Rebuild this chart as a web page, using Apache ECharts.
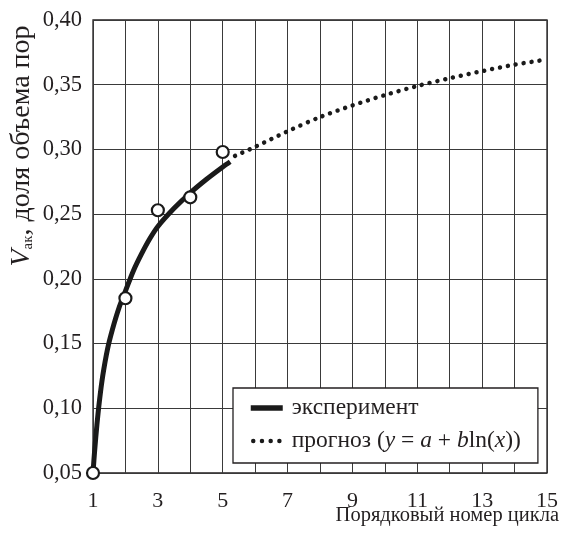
<!DOCTYPE html>
<html><head><meta charset="utf-8">
<script src="https://cdn.jsdelivr.net/npm/echarts@6/dist/echarts.min.js"></script>
<style>html,body{margin:0;padding:0;background:#fff}#c{width:561px;height:540px}</style>
</head><body><div id="c"></div>
<script>
// ---- data ----
const expX = [1, 2, 3, 4, 5];
const expY = [0.05, 0.185, 0.253, 0.263, 0.298];
const fitX = [1, 1.05, 1.12, 1.2, 1.3, 1.45, 1.6, 1.8, 2, 2.25, 2.5, 2.75, 3, 3.5, 4, 4.5, 5, 5.23];
const fitY = [0.05, 0.067, 0.087, 0.106, 0.125, 0.146, 0.161, 0.1775, 0.1905, 0.2065, 0.2195, 0.231, 0.2405, 0.2545, 0.2665, 0.277, 0.2865, 0.2905];
const fcX = [5.38, 6, 7, 8, 9, 10, 11, 12, 13, 14, 15];
const fcY = [0.295, 0.302, 0.314, 0.325, 0.334, 0.342, 0.349, 0.355, 0.3605, 0.3655, 0.3695];
const xLabelTicks = [1, 3, 5, 7, 9, 11, 13, 15];
const yTicks = [0.05, 0.10, 0.15, 0.20, 0.25, 0.30, 0.35, 0.40];
const nameExp = 'эксперимент';
const nameFc = 'прогноз';
const xTitle = 'Порядковый номер цикла';

const FONT = 'Liberation Serif';
const TXT = '#231f20';
const zip = (a, b) => a.map((v, i) => [v, b[i]]);

const chart = echarts.init(document.getElementById('c'), null, {renderer: 'canvas'});
chart.setOption({
  animation: false,
  backgroundColor: '#fff',
  grid: {left: 93, right: 14, top: 20, bottom: 67, outerBoundsMode: 'none', containLabel: false,
         show: true, borderColor: TXT, borderWidth: 1.3, backgroundColor: 'transparent'},
  xAxis: {
    type: 'value', min: 1, max: 15, interval: 1,
    axisLine: {show: false}, axisTick: {show: false},
    splitLine: {show: true, lineStyle: {color: '#3a3a3a', width: 1}},
    axisLabel: {
      margin: 17, fontFamily: FONT, fontSize: 22, color: TXT,
      formatter: v => xLabelTicks.includes(v) ? String(v) : ''
    }
  },
  yAxis: {
    type: 'value', min: yTicks[0], max: yTicks[yTicks.length - 1], interval: 0.05,
    axisLine: {show: false}, axisTick: {show: false},
    splitLine: {show: true, lineStyle: {color: '#3a3a3a', width: 1}},
    axisLabel: {
      margin: 11, fontFamily: FONT, fontSize: 22.5, color: TXT,
      formatter: v => v.toFixed(2).replace('.', ',')
    }
  },
  legend: {
    orient: 'vertical', left: 233, top: 388,
    padding: [8, 17, 10, 15], itemGap: 9, itemWidth: 32, itemHeight: 14,
    backgroundColor: '#fff', borderColor: TXT, borderWidth: 1.3, borderRadius: 0,
    itemStyle: {opacity: 0},
    data: [
      {name: nameExp, lineStyle: {color: '#1a1a1a', width: 5.5, type: 'solid'}},
      {name: nameFc, lineStyle: {color: '#1a1a1a', width: 4.5, type: [0.01, 8.7], cap: 'round', dashOffset: -2.5}}
    ],
    textStyle: {
      fontFamily: FONT, fontSize: 23.5, color: TXT, lineHeight: 24,
      rich: {
        f: {fontFamily: FONT, fontSize: 23.5, color: TXT, padding: [0, 0, 0, 4]},
        t: {fontFamily: FONT, fontSize: 23.5, color: TXT},
        i: {fontFamily: FONT, fontSize: 23.5, color: TXT, fontStyle: 'italic'}
      }
    },
    formatter: n => n === nameFc
      ? '{f|прогноз (}{i|y}{t| = }{i|a}{t| + }{i|b}{t|ln(}{i|x}{t|))}'
      : '{f|' + n + '}'
  },
  graphic: [{
    type: 'text', x: 22, y: 146, rotation: Math.PI / 2,
    style: {
      text: '{v|V}{s|ак}{t|, доля объема пор}',
      align: 'center', verticalAlign: 'middle',
      rich: {
        v: {fontFamily: FONT, fontSize: 28, fontStyle: 'italic', fill: TXT},
        s: {fontFamily: FONT, fontSize: 15, fill: TXT, verticalAlign: 'bottom'},
        t: {fontFamily: FONT, fontSize: 28, fill: TXT}
      }
    }
  }, {
    type: 'text', x: 559, y: 516,
    style: {
      text: xTitle, align: 'right', verticalAlign: 'middle',
      fontFamily: FONT, fontSize: 20.5, fill: TXT
    }
  }],
  series: [
    {
      name: nameExp, type: 'line', data: zip(fitX, fitY), smooth: 0.3,
      symbol: 'none', itemStyle: {color: '#1a1a1a'}, lineStyle: {color: '#1a1a1a', width: 5}, z: 3
    },
    {
      name: nameFc, type: 'line', data: zip(fcX, fcY), smooth: 0.3,
      symbol: 'none', itemStyle: {color: '#1a1a1a'}, lineStyle: {color: '#1a1a1a', width: 4.5, type: [0.01, 8], cap: 'round'}, z: 3
    },
    {
      name: 'points', type: 'scatter', data: zip(expX, expY),
      symbol: 'circle', symbolSize: 12,
      itemStyle: {color: '#fff', borderColor: '#1a1a1a', borderWidth: 2.2, opacity: 1}, z: 5
    }
  ]
});
</script></body></html>
